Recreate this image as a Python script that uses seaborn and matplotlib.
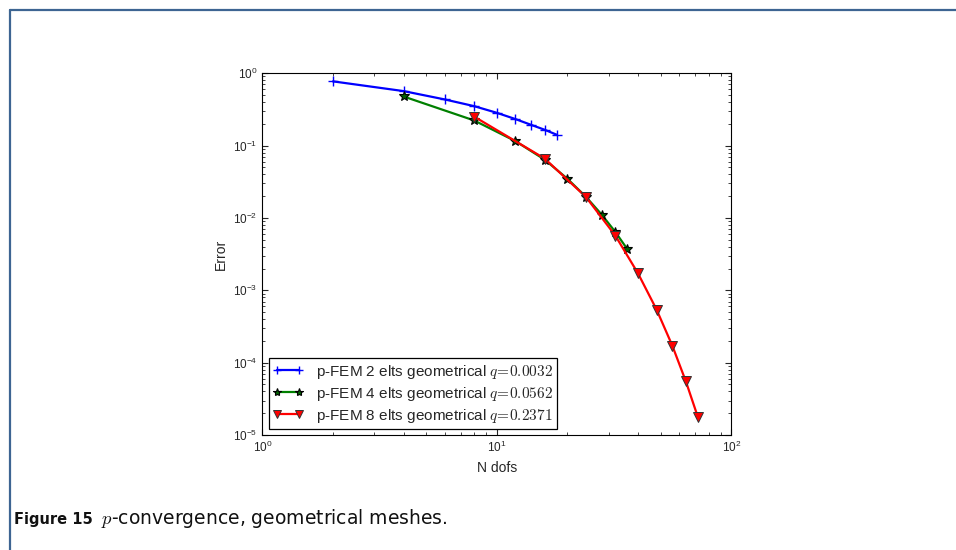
import math
import matplotlib
matplotlib.use("Agg")
import matplotlib.pyplot as plt
from matplotlib.lines import Line2D
from matplotlib.ticker import FuncFormatter, LogLocator
import seaborn as sns

sns.set_style("ticks")
plt.rcParams["font.family"] = ["Liberation Sans", "DejaVu Sans"]
plt.rcParams["mathtext.fontset"] = "cm"

# p-FEM convergence data
n2 = [2, 4, 6, 8, 10, 12, 14, 16, 18]
err2 = [0.77, 0.565, 0.433, 0.35, 0.283, 0.232, 0.193, 0.165, 0.141]

n4 = [4, 8, 12, 16, 20, 24, 28, 32, 36]
err4 = [0.476, 0.222, 0.115, 0.0637, 0.0347, 0.0195, 0.0111, 0.0064, 0.0037]

n8 = [8, 16, 24, 32, 40, 48, 56, 64, 72]
err8 = [0.251, 0.066, 0.0194, 0.0057, 0.00171, 0.00054, 0.000172, 5.5e-5, 1.77e-5]

labels = [
    r"p-FEM 2 elts geometrical $q\!=\!0.0032$",
    r"p-FEM 4 elts geometrical $q\!=\!0.0562$",
    r"p-FEM 8 elts geometrical $q\!=\!0.2371$",
]

fig = plt.figure(figsize=(9.56, 5.5), dpi=100)
ax = fig.add_axes([0.2745, 0.209, 0.4905, 0.658])

sns.lineplot(x=n2, y=err2, ax=ax, color="#0000ff", lw=1.6, marker="+",
             markersize=7, markeredgewidth=1.0, markeredgecolor="#0000ff",
             sort=False, label=labels[0])
sns.lineplot(x=n4, y=err4, ax=ax, color="#008000", lw=1.6, marker="*",
             markersize=7, markeredgewidth=0.8, markeredgecolor="black",
             markerfacecolor="#006000", sort=False, label=labels[1])
sns.lineplot(x=n8, y=err8, ax=ax, color="#ff0000", lw=1.6, marker="v",
             markersize=7, markeredgewidth=0.7, markeredgecolor="#333333",
             markerfacecolor="#ff0000", sort=False, label=labels[2])

ax.set_xscale("log")
ax.set_yscale("log")
ax.set_xlim(1, 100)
ax.set_ylim(1e-5, 1)

fmt = FuncFormatter(lambda v, p: r"$\mathregular{10^{%d}}$" % round(math.log10(v)))
ax.xaxis.set_major_formatter(fmt)
ax.yaxis.set_major_formatter(fmt)
ax.xaxis.set_minor_locator(LogLocator(base=10, subs=range(2, 10)))
ax.yaxis.set_minor_locator(LogLocator(base=10, subs=range(2, 10)))
ax.tick_params(which="both", direction="in", top=True, right=True, labelsize=8.5)
ax.tick_params(which="major", length=4, width=0.8)
ax.tick_params(which="minor", length=2, width=0.6)
for s in ax.spines.values():
    s.set_linewidth(0.8)
    s.set_color("black")

ax.set_xlabel("N dofs", fontsize=10)
ax.set_ylabel("Error", fontsize=10)

leg = ax.legend(loc="lower left", fontsize=11, fancybox=False, framealpha=1,
                edgecolor="black", borderaxespad=0.4, handlelength=2.0,
                numpoints=2, markerscale=0.85, labelspacing=0.26,
                borderpad=0.28, handletextpad=0.8)
leg.get_frame().set_linewidth(0.9)

# page frame lines
frame_col = "#3d6592"
fig.add_artist(Line2D([9.5 / 956, 1], [1 - 10 / 550, 1 - 10 / 550],
                      transform=fig.transFigure, color=frame_col, lw=1.6))
fig.add_artist(Line2D([9.5 / 956, 9.5 / 956], [0, 1 - 10 / 550],
                      transform=fig.transFigure, color=frame_col, lw=1.6))

fig.text(14 / 956, 1 - 524 / 550, "Figure 15", fontsize=10.5, fontweight="bold",
         family="DejaVu Sans", va="baseline", color="#111111")
fig.text(101 / 956, 1 - 524 / 550, r"$p$-convergence, geometrical meshes.",
         fontsize=13.5, family="DejaVu Sans", va="baseline", color="#111111")

fig.savefig("out.png", dpi=100)
